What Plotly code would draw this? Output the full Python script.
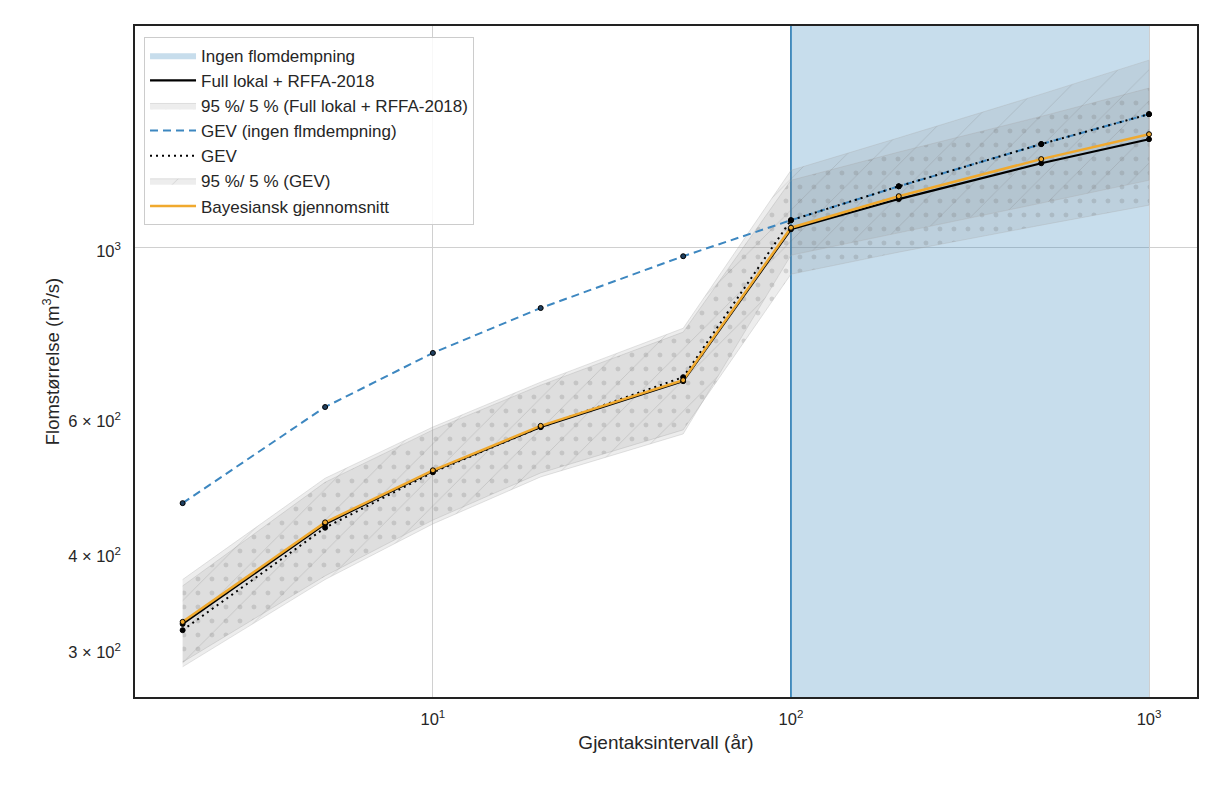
import plotly.graph_objects as go

# ---------------- data ----------------
T = [2, 5, 10, 20, 50, 100, 200, 500, 1000]

full_lokal = [323, 436, 511, 583, 669, 1055, 1155, 1286, 1382]
full_lo = [288, 373, 441, 508, 578, 922, 985, 1068, 1134]
full_hi = [362, 494, 578, 661, 775, 1222, 1330, 1480, 1611]

gev_ingen = [464, 619, 728, 833, 973, 1084, 1200, 1362, 1490]

gev = [317, 431, 509, 583, 677, 1084, 1200, 1362, 1490]
gev_lo = [284, 369, 436, 502, 571, 976, 1043, 1141, 1222]
gev_hi = [369, 500, 583, 667, 784, 1259, 1388, 1582, 1752]

bayes = [325, 438, 512, 585, 671, 1060, 1165, 1302, 1403]

region_x = [100, 1000]  # Ingen flomdempning

x_ticks = [10, 100, 1000]
x_ticktext = ["10<sup>1</sup>", "10<sup>2</sup>", "10<sup>3</sup>"]
y_ticks = [300, 400, 600, 1000]
y_ticktext = ["3 × 10<sup>2</sup>", "4 × 10<sup>2</sup>", "6 × 10<sup>2</sup>", "10<sup>3</sup>"]

X_RANGE = [0.168, 3.134]   # log10
Y_RANGE = [2.414, 3.288]   # log10

FONT = "Liberation Sans, Arial, sans-serif"
BAND_BG = "rgba(128,128,128,0.14)"
BAND_FG = "rgba(110,110,110,0.22)"

fig = go.Figure()

# blue region
ylo, yhi = 10 ** (Y_RANGE[0] - 0.05), 10 ** (Y_RANGE[1] + 0.05)
fig.add_trace(go.Scatter(
    x=[region_x[0], region_x[1], region_x[1], region_x[0], region_x[0]],
    y=[ylo, ylo, yhi, yhi, ylo],
    fill="toself", fillcolor="rgba(31,119,180,0.25)",
    line=dict(width=0), mode="lines",
    name="Ingen flomdempning", legendrank=1, hoverinfo="skip"))
fig.add_trace(go.Scatter(
    x=[region_x[0], region_x[0]], y=[ylo, yhi], mode="lines",
    line=dict(color="#1f77b4", width=1.5), showlegend=False, hoverinfo="skip"))

# bands
fig.add_trace(go.Scatter(
    x=T + T[::-1], y=full_hi + full_lo[::-1],
    fill="toself", fillcolor=BAND_BG, mode="lines",
    line=dict(color="rgba(170,170,170,0.3)", width=1),
    fillpattern=dict(shape=".", fgcolor=BAND_FG, bgcolor=BAND_BG, size=14,
                     solidity=0.1, fillmode="replace"),
    name="95 %/ 5 % (Full lokal + RFFA-2018)", legendrank=3))
fig.add_trace(go.Scatter(
    x=T + T[::-1], y=gev_hi + gev_lo[::-1],
    fill="toself", fillcolor=BAND_BG, mode="lines",
    line=dict(color="rgba(170,170,170,0.3)", width=1),
    fillpattern=dict(shape="/", fgcolor=BAND_FG, bgcolor=BAND_BG, size=22,
                     solidity=0.04, fillmode="replace"),
    name="95 %/ 5 % (GEV)", legendrank=6))

# lines
fig.add_trace(go.Scatter(x=T, y=full_lokal, mode="lines",
                         line=dict(color="black", width=2.2),
                         name="Full lokal + RFFA-2018", legendrank=2))
fig.add_trace(go.Scatter(x=T, y=gev_ingen, mode="lines",
                         line=dict(color="#3d87c0", width=2, dash="8px,5px"),
                         name="GEV (ingen flmdempning)", legendrank=4))
fig.add_trace(go.Scatter(x=T, y=gev, mode="lines",
                         line=dict(color="black", width=2, dash="2px,4px"),
                         name="GEV", legendrank=5))
fig.add_trace(go.Scatter(x=T, y=bayes, mode="lines",
                         line=dict(color="#f0a92e", width=2.5),
                         name="Bayesiansk gjennomsnitt", legendrank=7))

# markers
for ys, col in [(full_lokal, "black"), (gev_ingen, "#1f3f5f"), (gev, "black"), (bayes, "#f0a92e")]:
    fig.add_trace(go.Scatter(x=T, y=ys, mode="markers",
                             marker=dict(size=5, color=col, line=dict(color="black", width=1)),
                             showlegend=False, hoverinfo="skip"))

axis_common = dict(
    type="log", showline=True, mirror=True, linecolor="#222222", linewidth=1.5,
    ticks="", zeroline=False,
    tickfont=dict(family=FONT, size=16.5, color="#262626"),
)

fig.update_xaxes(**axis_common, range=X_RANGE, tickvals=x_ticks, ticktext=x_ticktext,
                 showgrid=True, gridcolor="#d0d0d0", gridwidth=1, ticklabelstandoff=6,
                 title=dict(text="Gjentaksintervall (år)", font=dict(family=FONT, size=19, color="#262626"),
                            standoff=9))
fig.update_yaxes(**axis_common, range=Y_RANGE, tickvals=y_ticks, ticktext=y_ticktext,
                 showgrid=False, ticklabelstandoff=9, ticklabelshift=4,
                 minor=dict(tickvals=[1000], showgrid=True, gridcolor="#d0d0d0", gridwidth=1, ticks=""),
                 title=dict(text="Flomstørrelse (m<sup>3</sup>/s)", font=dict(family=FONT, size=18.5, color="#262626"),
                            standoff=4))

fig.update_layout(
    width=1214, height=785,
    margin=dict(l=127, r=25, t=18, b=96),
    plot_bgcolor="white", paper_bgcolor="white",
    font=dict(family=FONT, color="#262626"),
    legend=dict(x=0.0085, y=0.984, xanchor="left", yanchor="top",
                bgcolor="rgba(255,255,255,0.85)", bordercolor="#cccccc", borderwidth=1,
                font=dict(family=FONT, size=17, color="#262626"),
                tracegroupgap=0, itemwidth=46),
    showlegend=True,
)

fig.write_html("out.html")
